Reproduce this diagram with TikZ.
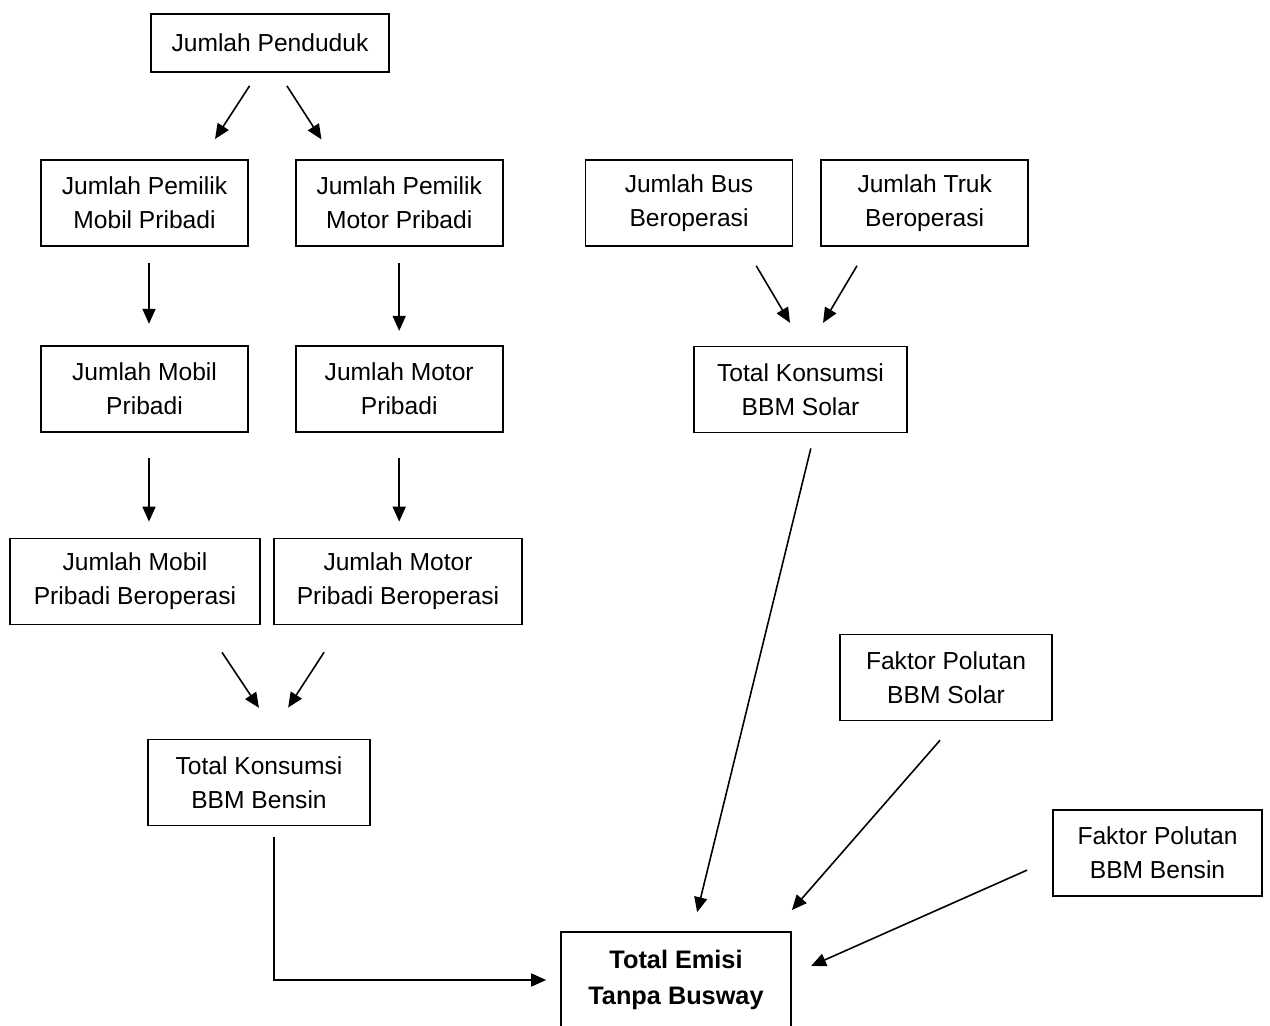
\documentclass[tikz,border=0pt]{standalone}
\usepackage{fontspec}
\setmainfont{Liberation Sans}
\usetikzlibrary{arrows.meta, positioning}
\tikzset{
	box/.style={rectangle, draw=black, line width=1pt, fill=white, align=center, inner sep=0pt, minimum width=4.14cm, minimum height=1.72cm, font=\fontsize{14}{19.3}\selectfont},
	arr/.style={-{Triangle[length=3mm, width=2.6mm]}, line width=0.9pt},
}
\begin{document}
\begin{tikzpicture}[x=0.02cm, y=-0.02cm, node distance=1.96cm and 0.92cm]
	\useasboundingbox (0,0) rectangle (1270,1026);
	% private vehicles
	\node[box, minimum width=4.76cm, minimum height=1.16cm] (pend) at (270,43) {Jumlah Penduduk};
	\node[box] (pmob) at (144.5,203) {Jumlah Pemilik\\Mobil Pribadi};
	\node[box, right=of pmob] (pmot) {Jumlah Pemilik\\Motor Pribadi};
	\node[box, below=of pmob] (mob) {Jumlah Mobil\\Pribadi};
	\node[box, below=of pmot] (mot) {Jumlah Motor\\Pribadi};
	\node[box, minimum width=5cm] (mobop) at (135,581.5) {Jumlah Mobil\\Pribadi Beroperasi};
	\node[box, minimum width=4.96cm] (motop) at (398,581.5) {Jumlah Motor\\Pribadi Beroperasi};
	\node[box, minimum width=4.44cm] (bensin) at (259,782.5) {Total Konsumsi\\BBM Bensin};
	% public / freight vehicles
	\node[box] (bus) at (689,203) {Jumlah Bus\\Beroperasi};
	\node[box, right=0.54cm of bus] (truk) {Jumlah Truk\\Beroperasi};
	\node[box, minimum width=4.26cm] (solar) at (800.5,389.5) {Total Konsumsi\\BBM Solar};
	% pollutant factors and result
	\node[box, minimum width=4.24cm] (fsolar) at (946,677.5) {Faktor Polutan\\BBM Solar};
	\node[box, minimum width=4.18cm] (fbensin) at (1157.5,853) {Faktor Polutan\\BBM Bensin};
	\node[box, minimum width=4.6cm, minimum height=1.92cm, font=\fontsize{14.4}{21}\selectfont\bfseries] (emisi) at (676,980) {Total Emisi\\Tanpa Busway};
	\draw[arr, shorten <=0.31cm, shorten >=0.48cm] ([xshift=-0.24cm]pend.south) -- ([xshift=1.15cm]pmob.north);
	\draw[arr, shorten <=0.31cm, shorten >=0.47cm] ([xshift=0.17cm]pend.south) -- ([xshift=-1.3cm]pmot.north);
	\draw[arr, shorten <=0.32cm, shorten >=0.42cm] ([xshift=0.09cm]pmob.south) -- ([xshift=0.09cm]mob.north);
	\draw[arr, shorten <=0.32cm, shorten >=0.28cm] (pmot.south) -- (mot.north);
	\draw[arr, shorten <=0.5cm, shorten >=0.32cm] ([xshift=0.09cm]mob.south) -- ([xshift=0.09cm]mob.south |- mobop.north);
	\draw[arr, shorten <=0.5cm, shorten >=0.32cm] (mot.south) -- (mot.south |- motop.north);
	\draw[arr, shorten <=0.44cm, shorten >=0.53cm] ([xshift=1.12cm]bus.south) -- ([xshift=0.06cm]solar.north);
	\draw[arr, shorten <=0.44cm, shorten >=0.53cm] ([xshift=-1.13cm]truk.south) -- ([xshift=0.18cm]solar.north);
	\draw[arr, shorten <=0.65cm, shorten >=0.74cm] ([xshift=1.38cm]mobop.south) -- ([xshift=0.41cm]bensin.north);
	\draw[arr, shorten <=0.64cm, shorten >=0.74cm] ([xshift=-1.13cm]motop.south) -- ([xshift=0.18cm]bensin.north);
	\draw[arr, shorten <=0.31cm, shorten >=0.39cm] ([xshift=0.28cm]solar.south) -- ([xshift=0.33cm]emisi.north);
	\draw[arr, shorten <=0.5cm, shorten >=0.56cm] ([xshift=0.21cm]fsolar.south) -- ([xshift=1.95cm]emisi.north);
	\draw[arr, shorten <=0.55cm, shorten >=0.42cm] ([yshift=-0.12cm]fbensin.west) -- ([yshift=0.11cm]emisi.east);
	\draw[arr, shorten <=0.22cm, shorten >=0.28cm] ([xshift=0.3cm]bensin.south) |- (emisi.west);
\end{tikzpicture}
\end{document}
